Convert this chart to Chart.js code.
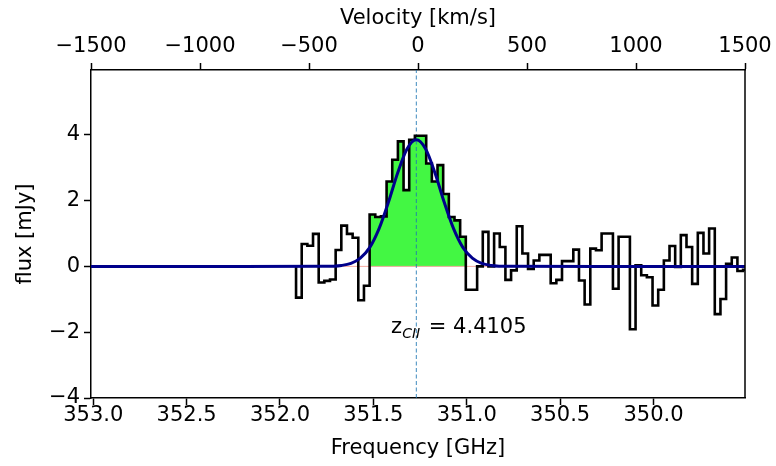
<!DOCTYPE html>
<html>
<head>
<meta charset="utf-8">
<script src="https://cdn.jsdelivr.net/npm/chart.js@4.4.1/dist/chart.umd.min.js"></script>
<style>
  html, body { margin: 0; padding: 0; background: #fff; }
</style>
</head>
<body>
<canvas id="myChart" width="776" height="466"></canvas>
<script>
// spectrum channels (GHz), first channel edge and width
const chanStart = 351.914;
const chanWidth = 0.0303;
const flux = [
  -0.95, 0.68, 0.63, 0.99, -0.49, -0.44, -0.40, 0.50, 1.24, 0.99,
  0.87, -1.03, -0.59, 1.58, 1.50, 1.52, 2.58, 3.24, 3.80, 2.32,
  3.85, 3.97, 3.97, 3.13, 2.58, 3.08, 2.20, 1.50, 1.40, 0.90,
  -0.71, -0.71, 0.00, 1.05, 0.00, 1.00, 0.59, -0.41, -0.12, 1.22,
  0.39, -0.08, 0.18, 0.35, 0.35, -0.51, -0.41, 0.16, 0.16, 0.51,
  -0.43, -1.16, 0.54, 0.49, 1.00, 1.00, -0.68, 0.90, 0.90, -1.91,
  0.03, -0.27, -0.33, -1.19, -0.71, 0.18, 0.62, -0.02, 0.95, 0.59,
  -0.53, 1.02, 0.39, 1.15, -1.45, -0.99, 0.08, 0.27, -0.14, -0.10
];
// channels under the line (green)
const lineFirst = 13;
const lineLast = 29;

// gaussian fit
const fitFreq = [353.012, 352.2, 351.77, 351.67, 351.62, 351.57, 351.52, 351.47, 351.42, 351.37, 351.32, 351.27,
  351.22, 351.17, 351.12, 351.07, 351.02, 350.97, 350.92, 350.87, 350.77, 350.3, 349.51];
const fitFlux = [0, 0, 0.003, 0.03, 0.09, 0.25, 0.57, 1.14, 1.94, 2.84, 3.57, 3.85,
  3.57, 2.84, 1.94, 1.14, 0.57, 0.25, 0.09, 0.03, 0.003, 0, 0];

const lineCenter = 351.27;
const zLabel = { freq: 351.405, flux: -2.02, z: "4.4105" };

const freqRange = [349.51, 353.012];
const fluxRange = [-4, 5.97];
const velRange = [-1500, 1500];
const freqTicks = [353.0, 352.5, 352.0, 351.5, 351.0, 350.5, 350.0];
const velTicks = [-1500, -1000, -500, 0, 500, 1000, 1500];
const fluxTicks = [-4, -2, 0, 2, 4];

const FONT = "DejaVu Sans";
const minus = (v) => (v < 0 ? "\u2212" + Math.abs(v) : String(v));

const edge = (i) => chanStart - i * chanWidth;
const specPts = [{ x: edge(0), y: 0 }];
flux.forEach((v, i) => specPts.push({ x: edge(i), y: v }));
specPts.push({ x: edge(flux.length), y: flux[flux.length - 1] });

const greenPts = [];
for (let i = lineFirst; i <= lineLast; i++) greenPts.push({ x: edge(i), y: flux[i] });
greenPts.push({ x: edge(lineLast + 1), y: flux[lineLast] });

const fitPts = fitFreq.map((f, i) => ({ x: f, y: fitFlux[i] }));

const spines = {
  id: "spines",
  afterDraw(chart) {
    const { ctx, chartArea: a, scales } = chart;
    ctx.save();
    ctx.strokeStyle = "#000";
    ctx.lineWidth = 1.5;
    ctx.beginPath();
    ctx.moveTo(a.right, a.top);
    ctx.lineTo(a.right, a.bottom);
    ctx.stroke();
    // redshift label
    const x = scales.x.getPixelForValue(zLabel.freq);
    const y = scales.y.getPixelForValue(zLabel.flux);
    ctx.fillStyle = "#000";
    ctx.textBaseline = "alphabetic";
    ctx.textAlign = "left";
    ctx.font = "21px '" + FONT + "'";
    ctx.fillText("z", x, y);
    let w = ctx.measureText("z").width;
    ctx.font = "italic 14px '" + FONT + "'";
    ctx.fillText("CII", x + w, y + 5);
    w += ctx.measureText("CII").width;
    ctx.font = "21px '" + FONT + "'";
    ctx.fillText(" = " + zLabel.z, x + w + 2, y);
    ctx.restore();
  }
};

const axisFont = { family: FONT, size: 21 };

new Chart(document.getElementById("myChart"), {
  type: "line",
  data: {
    datasets: [
      {
        data: fitPts,
        borderColor: "#00008b",
        borderWidth: 3,
        pointRadius: 0,
        cubicInterpolationMode: "monotone",
        order: 0
      },
      {
        data: specPts,
        stepped: true,
        borderColor: "#000",
        borderWidth: 2.6,
        pointRadius: 0,
        order: 1
      },
      {
        data: [{ x: lineCenter, y: fluxRange[0] }, { x: lineCenter, y: fluxRange[1] }],
        borderColor: "rgba(31,119,180,0.85)",
        borderWidth: 1,
        borderDash: [4, 2.5],
        pointRadius: 0,
        order: 2
      },
      {
        data: [{ x: freqRange[1], y: 0 }, { x: freqRange[0], y: 0 }],
        borderColor: "#f6aaa0",
        borderWidth: 1,
        pointRadius: 0,
        order: 3
      },
      {
        data: greenPts,
        stepped: true,
        borderWidth: 0,
        borderColor: "rgba(0,0,0,0)",
        backgroundColor: "rgba(10,245,10,0.77)",
        fill: "origin",
        pointRadius: 0,
        order: 4
      }
    ]
  },
  options: {
    responsive: false,
    devicePixelRatio: 1,
    animation: false,
    layout: { padding: { right: 31, left: 0, top: 0, bottom: 0 } },
    plugins: { legend: { display: false }, tooltip: { enabled: false } },
    scales: {
      x: {
        type: "linear",
        position: "bottom",
        reverse: true,
        min: freqRange[0],
        max: freqRange[1],
        afterBuildTicks: (s) => { s.ticks = freqTicks.map((v) => ({ value: v })); },
        afterFit: (s) => { s.height = 68; },
        ticks: { color: "#000", font: axisFont, padding: -2, maxRotation: 0, callback: (v) => v.toFixed(1) },
        grid: { drawOnChartArea: false, drawTicks: true, tickLength: 7, tickColor: "#000", tickWidth: 1.5 },
        border: { display: true, color: "#000", width: 1.5 },
        title: { display: true, text: "Frequency [GHz]", color: "#000", font: axisFont, padding: { top: 0, bottom: 5 } }
      },
      x2: {
        type: "linear",
        position: "top",
        min: velRange[0],
        max: velRange[1],
        afterBuildTicks: (s) => { s.ticks = velTicks.map((v) => ({ value: v })); },
        afterFit: (s) => { s.height = 70; },
        ticks: { color: "#000", font: axisFont, padding: 4, maxRotation: 0, callback: (v) => minus(v) },
        grid: { drawOnChartArea: false, drawTicks: true, tickLength: 7, tickColor: "#000", tickWidth: 1.5 },
        border: { display: true, color: "#000", width: 1.5 },
        title: { display: true, text: "Velocity [km/s]", color: "#000", font: axisFont, padding: { top: 6, bottom: 0 } }
      },
      y: {
        type: "linear",
        min: fluxRange[0],
        max: fluxRange[1],
        afterBuildTicks: (s) => { s.ticks = fluxTicks.map((v) => ({ value: v })); },
        afterFit: (s) => { s.width = 91; },
        ticks: { color: "#000", font: axisFont, padding: 4, callback: (v) => minus(v) },
        grid: { drawOnChartArea: false, drawTicks: true, tickLength: 7, tickColor: "#000", tickWidth: 1.5 },
        border: { display: true, color: "#000", width: 1.5 },
        title: { display: true, text: "flux [mJy]", color: "#000", font: axisFont, padding: { top: 13, bottom: 0 } }
      }
    }
  },
  plugins: [spines]
});
</script>
</body>
</html>
